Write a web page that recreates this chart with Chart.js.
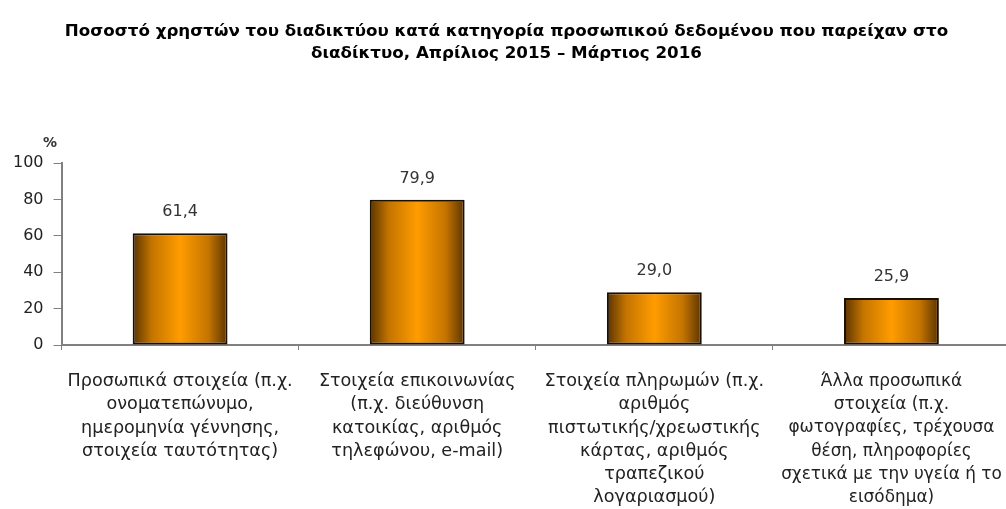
<!DOCTYPE html>
<html><head><meta charset="utf-8">
<script src="https://cdn.jsdelivr.net/npm/chart.js@4.4.1/dist/chart.umd.min.js"></script>
<style>html,body{margin:0;padding:0;background:#fff;overflow:hidden}#w{width:1010px;height:509px}</style>
</head><body><div id="w"><canvas id="c"></canvas></div>
<script>
const categories = [
  ["Προσωπικά στοιχεία (π.χ.","ονοματεπώνυμο,","ημερομηνία γέννησης,","στοιχεία ταυτότητας)"],
  ["Στοιχεία επικοινωνίας","(π.χ. διεύθυνση","κατοικίας, αριθμός","τηλεφώνου, e-mail)"],
  ["Στοιχεία πληρωμών (π.χ.","αριθμός","πιστωτικής/χρεωστικής","κάρτας, αριθμός","τραπεζικού","λογαριασμού)"],
  ["Άλλα προσωπικά","στοιχεία (π.χ.","φωτογραφίες, τρέχουσα","θέση, πληροφορίες","σχετικά με την υγεία ή το","εισόδημα)"]
];
const values = [61.4, 79.9, 29.0, 25.9];
const valueLabels = ["61,4", "79,9", "29,0", "25,9"];
const titleLines = ["Ποσοστό χρηστών του διαδικτύου κατά κατηγορία προσωπικού δεδομένου που παρείχαν στο","διαδίκτυο, Απρίλιος 2015 – Μάρτιος 2016"];
const unitLabel = "%";

const FONT = "'DejaVu Sans', sans-serif";
const BARPCT = 0.4;

function barFill(ctx){
  const chart = ctx.chart;
  const x = chart.scales && chart.scales.x;
  if(!chart.chartArea || !x || x.getPixelForValue(0) === undefined) return '#f90';
  const cw = (chart.chartArea.right - chart.chartArea.left) / values.length;
  const cx = x.getPixelForValue(ctx.dataIndex);
  const w = cw * BARPCT;
  const g = chart.ctx.createLinearGradient(cx - w/2, 0, cx + w/2, 0);
  g.addColorStop(0, '#5a3300');
  g.addColorStop(0.2, '#c47400');
  g.addColorStop(0.5, '#ff9c00');
  g.addColorStop(0.8, '#c47400');
  g.addColorStop(1, '#5a3300');
  return g;
}

const extras = {
  id: 'extras',
  afterDatasetsDraw(chart){
    const c = chart.ctx;
    const meta = chart.getDatasetMeta(0);
    c.save();
    c.fillStyle = '#333';
    c.font = "16px " + FONT;
    c.textAlign = 'center';
    c.textBaseline = 'middle';
    meta.data.forEach((b,i)=>{ c.fillText(valueLabels[i], b.x, b.y - 21); });
    const y = chart.scales.y;
    c.textAlign = 'left';
    c.font = "bold 14px " + FONT;
    c.fillText(unitLabel, 43, y.top - 20);
    c.restore();
  }
};

new Chart(document.getElementById('c'), {
  type: 'bar',
  data: { labels: categories, datasets: [{ data: values, backgroundColor: barFill, borderColor: '#1a0f00', borderWidth: 2, borderSkipped: false, barPercentage: BARPCT, categoryPercentage: 1 }] },
  options: {
    responsive: true, maintainAspectRatio: false, animation: false,
    devicePixelRatio: 1,
    layout: { padding: { left: 3, right: 0, top: 0, bottom: 0 } },
    plugins: {
      legend: { display: false }, tooltip: { enabled: false },
      title: { display: true, text: titleLines, color: '#000', font: { family: FONT, size: 16.7, weight: 'bold', lineHeight: 1.32 }, padding: { top: 21, bottom: 98 } }
    },
    scales: {
      x: {
        afterFit: (s) => { s.height = 164; s.paddingRight = 0; s.paddingLeft = 0; },
        grid: { display: true, drawOnChartArea: false, offset: true, tickLength: 5, color: '#808080' },
        border: { color: '#808080', width: 2 },
        ticks: { color: '#222', font: (c) => ({ family: FONT, size: c.index === categories.length - 1 ? 16.9 : 17.6, lineHeight: '23.2px' }), maxRotation: 0, autoSkip: false, padding: 20 }
      },
      y: {
        min: 0, max: 100,
        grid: { display: true, drawOnChartArea: false, tickLength: 8, color: '#808080' },
        border: { color: '#808080', width: 2 },
        ticks: { stepSize: 20, color: '#222', font: { family: FONT, size: 16 }, padding: 10 }
      }
    }
  },
  plugins: [extras]
});
</script></body></html>
